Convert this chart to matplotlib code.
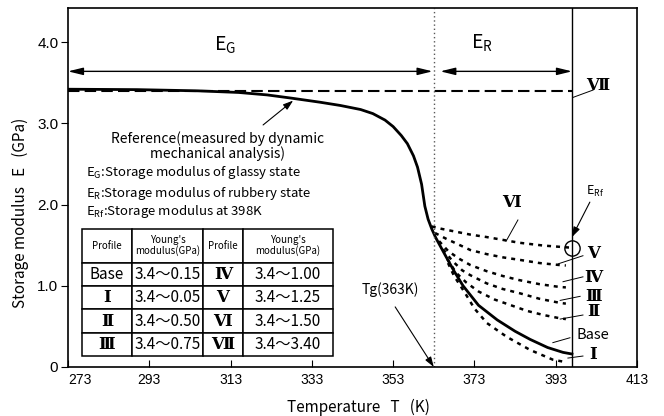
import numpy as np
import matplotlib.pyplot as plt

plt.rcParams['font.family'] = ['Noto Sans CJK JP', 'DejaVu Sans']
plt.rcParams['mathtext.default'] = 'regular'
ROMAN = ['DejaVu Serif', 'Noto Sans CJK JP']

# reference curve measured by DMA (solid) = Base profile
t_ref = [273, 290, 305, 315, 322, 328, 335, 340, 345, 348, 351, 353, 355, 356.5,
         358, 359, 360, 360.8, 361.6, 362.5, 363.5, 364.8, 366, 368, 370.2, 374,
         378.6, 383, 386.7, 391, 394.8, 397]
e_ref = [3.42, 3.415, 3.40, 3.38, 3.35, 3.31, 3.26, 3.22, 3.17, 3.12, 3.04, 2.96,
         2.85, 2.75, 2.60, 2.46, 2.25, 1.98, 1.82, 1.70, 1.59, 1.47, 1.36, 1.18,
         1.00, 0.76, 0.58, 0.44, 0.34, 0.24, 0.18, 0.16]

# rubbery-state profiles (dashed)
t_vi = [362.5, 365, 368, 372, 376, 380, 384, 390, 396.5]
e_vi = [1.73, 1.70, 1.67, 1.63, 1.60, 1.565, 1.53, 1.495, 1.47]
t_v = [363.3, 366, 369, 372, 376, 380, 384, 389, 394, 395.5]
e_v = [1.65, 1.58, 1.51, 1.44, 1.39, 1.35, 1.32, 1.28, 1.255, 1.25]
t_iv = [364.3, 366.5, 369, 372, 376, 380, 384, 389, 394, 395.5]
e_iv = [1.55, 1.43, 1.34, 1.255, 1.18, 1.12, 1.07, 1.02, 0.985, 0.98]
t_iii = [365.3, 367.5, 370, 372, 376, 380, 384, 389, 394, 395.5]
e_iii = [1.45, 1.31, 1.19, 1.13, 1.03, 0.96, 0.91, 0.84, 0.79, 0.78]
t_ii = [366.3, 368.5, 371, 374, 378, 382, 386, 390, 394, 395.5]
e_ii = [1.33, 1.16, 1.04, 0.93, 0.83, 0.76, 0.69, 0.64, 0.60, 0.59]
t_i = [366.5, 368, 370.7, 373, 376.1, 381, 386.7, 392.3, 395.5]
e_i = [1.28, 1.12, 0.91, 0.72, 0.54, 0.37, 0.21, 0.09, 0.06]

# VII: constant modulus
t_vii = [273, 397]
e_vii = [3.40, 3.40]

Tg = 363
T_rf = 397
e_rf = 1.47

# table
col_labels = ['Profile', "Young's\nmodulus(GPa)", 'Profile', "Young's\nmodulus(GPa)"]
prof_left = ['Base', 'Ⅰ', 'Ⅱ', 'Ⅲ']
mod_left = ['3.4～0.15', '3.4～0.05', '3.4～0.50', '3.4～0.75']
prof_right = ['Ⅳ', 'Ⅴ', 'Ⅵ', 'Ⅶ']
mod_right = ['3.4～1.00', '3.4～1.25', '3.4～1.50', '3.4～3.40']

xticks = [273, 293, 313, 333, 353, 373, 393, 413]
yticks = [0, 1, 2, 3, 4]
ytick_labels = ['0', '1.0', '2.0', '3.0', '4.0']

fig = plt.figure(figsize=(6.64, 4.16), dpi=100)
ax = fig.add_axes([68/664, 49/416, 569/664, 359/416])

ax.plot(t_ref, e_ref, 'k', lw=2.0)
dots = (0, (1.6, 2.0))
for tt, ee in [(t_vi, e_vi), (t_v, e_v), (t_iv, e_iv), (t_iii, e_iii), (t_ii, e_ii), (t_i, e_i)]:
    ax.plot(tt, ee, color='k', lw=1.8, linestyle=dots)
ax.plot(t_vii, e_vii, color='k', lw=1.5, linestyle=(0, (5.5, 2.5)))

ax.axvline(T_rf, color='k', lw=1.0)
ax.axvline(Tg, color='0.35', lw=1.0, linestyle=(0, (1, 2)))
ax.plot(T_rf, e_rf, 'o', ms=11, mfc='none', mec='k', mew=1.0)

ax.set_xlim(273, 413)
ax.set_ylim(0, 4.42)
ax.set_xticks(xticks)
ax.set_yticks(yticks)
ax.set_yticklabels(ytick_labels)
ax.tick_params(axis='x', direction='in', length=5, labelsize=10, pad=4,
               labelfontfamily='Liberation Sans')
ax.tick_params(axis='y', direction='out', length=5, labelsize=11, pad=2,
               labelfontfamily='Liberation Sans')
ax.get_xticklabels()[0].set_horizontalalignment('left')
for s in ax.spines.values():
    s.set_linewidth(1.2)

# region arrows
arr = dict(arrowstyle='<|-|>,head_length=0.9,head_width=0.22', lw=1.0, color='k',
           shrinkA=0, shrinkB=0)
ax.annotate('', xy=(273, 3.64), xytext=(Tg - 0.3, 3.64), arrowprops=arr)
ax.annotate('', xy=(Tg + 1.6, 3.64), xytext=(T_rf, 3.64), arrowprops=arr)
ax.text(311.6, 3.96, r'E$_{G}$', fontsize=14, ha='center', va='center')
ax.text(374.9, 3.99, r'E$_{R}$', fontsize=14, ha='center', va='center')

# notes
ax.text(309.9, 2.72, 'Reference(measured by dynamic\nmechanical analysis)', fontsize=10,
        ha='center', va='center', linespacing=1.05)
ax.annotate('', xy=(328.4, 3.28), xytext=(321, 2.98),
            arrowprops=dict(arrowstyle='-|>,head_length=0.6,head_width=0.2', lw=0.8,
                            color='k', shrinkA=0, shrinkB=0))
ax.text(277.4, 2.39, r'E$_{G}$:Storage modulus of glassy state', fontsize=9.5, va='center')
ax.text(277.4, 2.14, r'E$_{R}$:Storage modulus of rubbery state', fontsize=9.5, va='center')
ax.text(277.4, 1.91, r'E$_{Rf}$:Storage modulus at 398K', fontsize=9.5, va='center')

ax.text(352.2, 0.95, 'Tg(363K)', fontsize=10, ha='center', va='center')
ax.annotate('', xy=(Tg, 0.0), xytext=(353.5, 0.74),
            arrowprops=dict(arrowstyle='-|>,head_length=0.6,head_width=0.2', lw=0.8,
                            color='k', shrinkA=0, shrinkB=0))

ax.text(402.7, 2.16, r'E$_{Rf}$', fontsize=9, ha='center', va='center')
ax.annotate('', xy=(397.0, 1.60), xytext=(401.4, 2.03),
            arrowprops=dict(arrowstyle='-|>,head_length=0.6,head_width=0.2', lw=0.8,
                            color='k', shrinkA=0, shrinkB=0))

# profile labels with leader lines
labels = [('Ⅵ', 382.2, 2.03, (383.7, 1.81), (380.8, 1.55)),
          ('Ⅶ', 403.4, 3.47, (402.2, 3.41), (397.3, 3.32)),
          ('Ⅴ', 402.2, 1.40, (399.7, 1.37), (393.6, 1.27)),
          ('Ⅳ', 402.2, 1.10, (399.7, 1.11), (394.8, 1.05)),
          ('Ⅲ', 402.2, 0.87, (399.0, 0.87), (394.1, 0.82)),
          ('Ⅱ', 402.2, 0.68, (399.7, 0.64), (394.1, 0.59)),
          ('Base', 402.2, 0.39, (396.5, 0.36), (392.3, 0.30)),
          ('Ⅰ', 402.2, 0.15, (399.7, 0.135), (396.0, 0.11))]
for txt, x, y, p0, p1 in labels:
    if txt == 'Base':
        ax.text(x, y, txt, fontsize=10.5, ha='center', va='center')
    else:
        ax.text(x, y, txt, fontsize=12, ha='center', va='center', family=ROMAN,
                fontweight='bold')
    ax.plot([p0[0], p1[0]], [p0[1], p1[1]], color='k', lw=0.7)

# table of profiles
rows = [list(r) for r in zip(prof_left, mod_left, prof_right, mod_right)]
widths = np.array([50, 71, 40, 90], dtype=float)
tbl = ax.table(cellText=rows, colLabels=col_labels, colWidths=list(widths / widths.sum()),
               cellLoc='center', bbox=[0.0246, 0.0306, 0.441, 0.354])
tbl.auto_set_font_size(False)
for (r, c), cell in tbl.get_celld().items():
    cell.set_linewidth(1.1)
    cell.set_facecolor('white')
    t = cell.get_text()
    if r == 0:
        cell.set_height(cell.get_height() * 1.45)
        t.set_fontsize(7)
        t.set_linespacing(1.0)
    else:
        val = t.get_text()
        if c in (0, 2) and val != 'Base':
            t.set_fontfamily(ROMAN)
            t.set_fontweight('bold')
            t.set_fontsize(12)
        else:
            t.set_fontsize(11)

fig.text(20/664, 1 - 213/416, 'Storage modulus   E   (GPa)', rotation=90,
         fontsize=11, ha='center', va='center')
fig.text(358/664, 1 - 407/416, 'Temperature   T   (K)', fontsize=11,
         ha='center', va='center')

fig.savefig('out.png', dpi=100)
